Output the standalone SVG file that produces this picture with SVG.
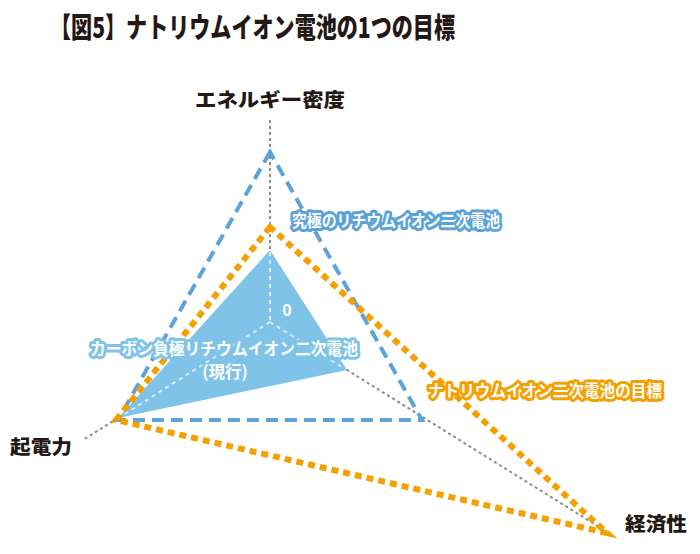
<svg xmlns="http://www.w3.org/2000/svg" width="700" height="554" viewBox="0 0 700 554">
<style>
text{font-family:"Noto Sans CJK JP","Noto Sans",sans-serif;font-weight:700}
.title{font-size:28px;fill:#231815;font-weight:900}
.axis-label{font-size:19px;fill:#231815;font-weight:900}
.lbl{font-size:16.5px;fill:#fff;stroke-linejoin:round;paint-order:stroke}
.axis{stroke:#8c8c8c;stroke-width:2;stroke-dasharray:3 3;fill:none}
.axis-in{stroke:#d4ecf8;stroke-width:2;stroke-dasharray:4 4;fill:none}
.blue{stroke:#5ba3d9;stroke-width:4;stroke-dasharray:12 7;fill:none;stroke-linejoin:miter}
.orange{stroke:#f5a000;stroke-width:6;stroke-dasharray:7 5;fill:none}
</style>
<rect width="700" height="554" fill="#fff"/>
<text class="title" x="50" y="38" textLength="405" lengthAdjust="spacingAndGlyphs">【図5】ナトリウムイオン電池の1つの目標</text>
<g id="connectors">
<line class="axis" x1="270" y1="120" x2="270" y2="322"/>
<line class="axis" x1="270" y1="322" x2="83" y2="440"/>
<line class="axis" x1="270" y1="322" x2="604" y2="530"/>
</g>
<g id="current-lithium">
<polygon points="270,250 118,418 347,370" fill="#7fc4e8"/>
<line class="axis-in" x1="270" y1="252" x2="270" y2="322"/>
<line class="axis-in" x1="270" y1="322" x2="120" y2="417"/>
<line class="axis-in" x1="270" y1="322" x2="345" y2="369"/>
</g>
<g id="ultimate-lithium">
<polygon class="blue" points="270,152 118,420 422,420"/>
</g>
<g id="sodium-target">
<polygon class="orange" points="270,227 116,420 607,533"/>
</g>
<g id="axis-energy"><text class="axis-label" x="270" y="107" text-anchor="middle" textLength="150" lengthAdjust="spacingAndGlyphs">エネルギー密度</text></g>
<g id="axis-voltage"><text class="axis-label" x="10" y="454" textLength="62" lengthAdjust="spacingAndGlyphs">起電力</text></g>
<g id="axis-economy"><text class="axis-label" x="625" y="531" textLength="62" lengthAdjust="spacingAndGlyphs">経済性</text></g>
<g id="label-zero"><text x="287" y="316" text-anchor="middle" font-size="16" fill="#fff">0</text></g>
<g id="label-ultimate"><text class="lbl" x="292" y="227" stroke="#5ba3d9" stroke-width="6" textLength="208" lengthAdjust="spacingAndGlyphs">究極のリチウムイオン二次電池</text></g>
<g id="label-sodium"><text class="lbl" x="428" y="397" stroke="#f5a000" stroke-width="6" textLength="234" lengthAdjust="spacingAndGlyphs">ナトリウムイオン二次電池の目標</text></g>
<g id="label-current">
<text class="lbl" x="90" y="355" font-size="15.5" stroke="#7fc4e8" stroke-width="6" textLength="268" lengthAdjust="spacingAndGlyphs">カーボン負極リチウムイオン二次電池</text>
<text class="lbl" x="225" y="378" text-anchor="middle" font-size="13">(現行)</text>
</g>
</svg>
